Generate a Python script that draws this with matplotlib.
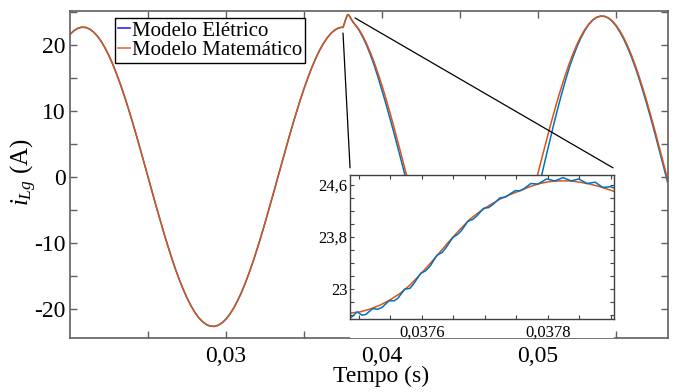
import matplotlib
matplotlib.use("Agg")
import matplotlib.pyplot as plt
import numpy as np
from matplotlib.ticker import MultipleLocator, FixedLocator, FuncFormatter
from matplotlib.patches import ConnectionPatch, Rectangle
from matplotlib.lines import Line2D

plt.rcParams['font.family'] = ['Liberation Serif', 'DejaVu Serif']
plt.rcParams['mathtext.fontset'] = 'custom'
plt.rcParams['mathtext.rm'] = 'Liberation Serif'
plt.rcParams['mathtext.it'] = 'Liberation Serif:italic'

# main plot, time in ms (sampled every 0.25 ms, denser around the step)
t_pre_ms = np.arange(20.0, 37.01, 0.25)
t_step_ms = [37.2, 37.4, 37.5, 37.6, 37.7, 37.8, 37.9, 38.0, 38.15, 38.3]
t_post_ms = list(np.arange(38.5, 58.26, 0.25)) + [58.3]

# before the step (both models overlap)
i_pre = [21.60, 22.16, 22.52, 22.69, 22.65, 22.42, 21.98, 21.35, 20.53, 19.52,
         18.35, 17.01, 15.51, 13.89, 12.14, 10.28, 8.33, 6.31, 4.23, 2.11,
         -0.03, -2.16, -4.28, -6.36, -8.38, -10.33, -12.19, -13.94, -15.56, -17.04,
         -18.38, -19.55, -20.55, -21.37, -21.99, -22.42, -22.66, -22.69, -22.52, -22.15,
         -21.58, -20.82, -19.88, -18.76, -17.48, -16.03, -14.45, -12.74, -10.91, -8.99,
         -6.99, -4.92, -2.82, -0.69, 1.45, 3.58, 5.67, 7.72, 9.69, 11.58,
         13.37, 15.03, 16.57, 17.96, 19.19, 20.24, 21.12, 21.81, 22.30]
i_step = [22.56, 22.68, 22.66, 23.35, 24.10, 24.60, 24.45, 24.00, 23.45, 23.00]

# after the step
i_post_mat = [22.44, 21.44, 20.25, 18.88, 17.34, 15.65, 13.82, 11.87, 9.80, 7.66,
              5.44, 3.18, 0.89, -1.41, -3.69, -5.95, -8.15, -10.28, -12.31, -14.24,
              -16.05, -17.70, -19.20, -20.54, -21.68, -22.64, -23.40, -23.94, -24.28, -24.40,
              -24.30, -23.99, -23.47, -22.73, -21.80, -20.67, -19.36, -17.87, -16.23, -14.44,
              -12.53, -10.50, -8.38, -6.19, -3.94, -1.66, 0.64, 2.94, 5.20, 7.42,
              9.58, 11.65, 13.61, 15.45, 17.17, 18.72, 20.11, 21.32, 22.34, 23.17,
              23.79, 24.19, 24.38, 24.36, 24.12, 23.66, 23.00, 22.13, 21.07, 19.81,
              18.39, 16.79, 15.06, 13.18, 11.19, 9.10, 6.93, 4.69, 2.42, 0.12, -0.34]
i_post_ele = [22.33, 21.26, 20.00, 18.53, 16.89, 15.05, 13.06, 11.06, 8.95, 6.78,
              4.54, 2.27, -0.03, -2.33, -4.60, -6.81, -8.95, -10.98, -12.90, -14.74,
              -16.45, -18.00, -19.40, -20.69, -21.78, -22.71, -23.45, -23.97, -24.30, -24.45,
              -24.40, -24.39, -24.23, -23.73, -23.04, -22.13, -21.04, -19.74, -18.29, -16.66,
              -14.90, -12.98, -10.97, -8.85, -6.66, -4.40, -2.12, 0.44, 2.95, 5.45,
              7.89, 10.23, 12.46, 14.55, 16.52, 18.22, 19.75, 21.07, 22.19, 23.08,
              23.75, 24.16, 24.36, 24.33, 24.08, 23.58, 22.88, 21.95, 20.84, 19.54,
              18.09, 16.46, 14.70, 12.79, 10.78, 8.67, 6.49, 4.24, 1.96, -0.34, -0.80]

# zoomed window
tz_mat = [0.037486, 0.037502, 0.037517, 0.037533, 0.037549, 0.037565, 0.037581,
          0.037597, 0.037613, 0.037629, 0.037644, 0.037660, 0.037676, 0.037692,
          0.037708, 0.037724, 0.037740, 0.037756, 0.037771, 0.037787, 0.037803,
          0.037819, 0.037835, 0.037851, 0.037867, 0.037883, 0.037905]
iz_mat = [22.63, 22.65, 22.69, 22.75, 22.83, 22.93, 23.06,
          23.22, 23.39, 23.57, 23.74, 23.91, 24.07, 24.19,
          24.29, 24.38, 24.45, 24.51, 24.57, 24.62, 24.65,
          24.66, 24.66, 24.64, 24.61, 24.57, 24.50]
tz_ele = [0.037486, 0.037490, 0.037497, 0.037505, 0.037511, 0.037522, 0.037530,
          0.037537, 0.037548, 0.037556, 0.037562, 0.037573, 0.037581, 0.037587,
          0.037598, 0.037606, 0.037613, 0.037624, 0.037632, 0.037638, 0.037649,
          0.037657, 0.037663, 0.037673, 0.037681, 0.037687, 0.037698, 0.037706,
          0.037713, 0.037724, 0.037732, 0.037737, 0.037748, 0.037756, 0.037762,
          0.037773, 0.037784, 0.037798, 0.037811, 0.037824, 0.037837, 0.037849,
          0.037862, 0.037875, 0.037887, 0.037900, 0.037905]
iz_ele = [22.56, 22.58, 22.65, 22.60, 22.61, 22.70, 22.69,
          22.72, 22.82, 22.82, 22.86, 23.00, 23.01, 23.08,
          23.24, 23.28, 23.35, 23.52, 23.56, 23.63, 23.79,
          23.84, 23.90, 24.04, 24.07, 24.12, 24.24, 24.25,
          24.30, 24.40, 24.41, 24.44, 24.51, 24.51, 24.54,
          24.62, 24.61, 24.69, 24.66, 24.71, 24.66, 24.69,
          24.62, 24.64, 24.56, 24.57, 24.55]

blue = '#0072BD'
orange = '#D95319'

t = np.concatenate([t_pre_ms, t_step_ms, t_post_ms]) / 1000
i_ele = np.array(i_pre + i_step + i_post_ele)
i_mat = np.array(i_pre + i_step + i_post_mat)

comma = FuncFormatter(lambda v, p: ('%g' % v).replace('.', ','))
inset_fmt = FuncFormatter(lambda v, p: ('%.4f' % v).replace('.', ','))

fig = plt.figure(figsize=(6.81, 3.92), dpi=100)
ax = fig.add_axes([0.1028, 0.1378, 0.8781, 0.8342])
ax.plot(t, i_ele, color=blue, lw=1.1)
ax.plot(t, i_mat, color=orange, lw=1.1)
ax.set_xlim(0.02, 0.05833)
ax.set_ylim(-24.45, 25.15)
ax.xaxis.set_major_locator(FixedLocator([0.03, 0.04, 0.05]))
ax.xaxis.set_minor_locator(FixedLocator([0.025, 0.035, 0.045, 0.055]))
ax.yaxis.set_major_locator(MultipleLocator(10))
ax.yaxis.set_minor_locator(MultipleLocator(5))
ax.xaxis.set_major_formatter(comma)
ax.yaxis.set_major_formatter(FuncFormatter(lambda v, p: '%d' % v))
ax.tick_params(which='both', direction='in', top=True, right=True,
               length=5, width=1, color='#606060', labelsize=17, pad=3)
ax.tick_params(axis='x', pad=6)
for s in ax.spines.values():
    s.set_color('#606060')
    s.set_linewidth(1.2)

fig.text(381 / 681, 1 - 376 / 392, 'Tempo (s)', ha='center', va='center', fontsize=17)
fig.text(24 / 681, 1 - 172 / 392, r'$i_{Lg}$ (A)', ha='center', va='center',
         rotation=90, fontsize=18)

handles = [Line2D([], [], color='#2a2aff', lw=1.2), Line2D([], [], color='#e0703e', lw=1.2)]
leg = ax.legend(handles, ['Modelo Elétrico', 'Modelo Matemático'], loc='upper left',
                bbox_to_anchor=(0.0753, 0.9786), borderaxespad=0, fontsize=15,
                handlelength=0.55, handletextpad=0.12, labelspacing=0.0,
                borderpad=0.15, fancybox=False, framealpha=1)
leg.get_frame().set_edgecolor('black')
leg.get_frame().set_linewidth(1.0)

# inset
axin = fig.add_axes([0.5140, 0.1862, 0.3877, 0.3673])
axin.add_patch(Rectangle((0, -0.135), 1, 0.135, transform=axin.transAxes,
                         facecolor='white', edgecolor='none', clip_on=False, zorder=1))
axin.plot(tz_mat, iz_mat, color=orange, lw=1.1)
axin.plot(tz_ele, iz_ele, color=blue, lw=1.1)
axin.set_xlim(0.037486, 0.037905)
axin.set_ylim(22.54, 24.75)
axin.xaxis.set_major_locator(FixedLocator([0.0376, 0.0378]))
axin.xaxis.set_minor_locator(MultipleLocator(0.00005))
axin.yaxis.set_major_locator(FixedLocator([23.0, 23.8, 24.6]))
axin.yaxis.set_minor_locator(MultipleLocator(0.2))
axin.xaxis.set_major_formatter(inset_fmt)
axin.yaxis.set_major_formatter(comma)
axin.tick_params(which='both', direction='in', top=True, right=True,
                 length=3, width=0.8, color='#404040', labelsize=12, pad=2)
axin.tick_params(axis='x', pad=4)
for s in axin.spines.values():
    s.set_color('#404040')
    s.set_linewidth(1.0)

# zoom connector lines
for xa, xb in [((0.0375, 21.8), (0.0, 1.05)), ((0.03827, 24.09), (0.996, 1.05))]:
    con = ConnectionPatch(xyA=xa, coordsA=ax.transData, xyB=xb, coordsB=axin.transAxes,
                          color='black', lw=0.9)
    fig.add_artist(con)

fig.savefig('out.png', dpi=100)
